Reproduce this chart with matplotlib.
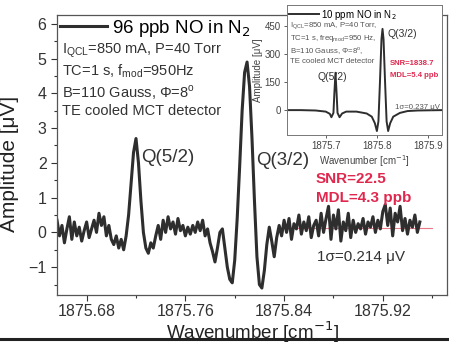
import numpy as np
import matplotlib
matplotlib.use("Agg")
import matplotlib.pyplot as plt

plt.rcParams['font.family'] = ['Liberation Sans', 'DejaVu Sans']

# main trace: 96 ppb NO, sampled every 0.002 cm-1 starting at 1875.656
wn_start = 1875.656
wn_step = 0.002
amp_96ppb = [
    0.35, -0.1, 0.2, -0.3, 0.1, 0.45, -0.2, 0.3, -0.1, 0.15,
    -0.25, 0.05, 0.3, -0.15, 0.1, 0.35, 0.0, 0.55, 0.2, 0.45,
    -0.1, 0.2, -0.2, -0.35, -0.1, -0.45, -0.2, -0.5, -0.1, 0.5,
    1.4, 2.3, 2.7, 2.0, 0.9, 0.0, -0.45, -0.6, -0.3, -0.45,
    -0.1, 0.2, -0.2, 0.35, 0.0, 0.45, 0.1, 0.3, -0.05, 0.4,
    0.05, 0.2, -0.1, 0.15, -0.05, 0.2, 0.0, 0.3, 0.05, 0.35,
    -0.1, 0.1, -0.3, -0.55, -0.85, -0.45, 0.0, 0.1, -0.45, -1.0,
    -1.35, -1.45, -0.8, 0.4, 1.9, 3.5, 4.6, 4.9, 4.2, 2.7,
    0.9, -0.7, -1.5, -1.6, -1.1, -0.35, 0.15, -0.25, -0.7, -0.15,
    0.2, -0.1, 0.35, 0.0, 0.4, -0.2, 0.25, 0.1, 0.5, -0.05,
    0.3, 0.05, 0.45, -0.15, 0.2, 0.35, -0.1, 0.55, 0.0, 0.4,
    0.75, -0.2, 0.5, 0.1, 0.65, -0.25, 0.3, 0.05, 0.55, -0.15,
    0.35, 0.0, 0.25, 0.1, 0.4, -0.05, 0.3, 0.15, 0.45, 0.0,
    0.35, 0.1, 0.6, 0.8, 0.2, 0.7, -0.1, 0.55, 0.3, 0.75,
    0.05, 0.4, -0.05, 0.35, 0.15, 0.5, 0.0, 0.3,
]
wn_main = wn_start + wn_step * np.arange(len(amp_96ppb))

baseline_wn = [1875.8376, 1875.96]
baseline_amp = [0.12, 0.12]

# inset trace: 10 ppm NO
wn_inset = [1875.624, 1875.65, 1875.68, 1875.70, 1875.708, 1875.711, 1875.715,
            1875.717, 1875.719, 1875.721, 1875.723, 1875.727, 1875.732, 1875.74,
            1875.76, 1875.78, 1875.79, 1875.796, 1875.800, 1875.803, 1875.806,
            1875.809, 1875.811, 1875.813, 1875.816, 1875.819, 1875.822, 1875.826,
            1875.832, 1875.845, 1875.86, 1875.88, 1875.927]
amp_10ppm = [0, 0, -2, -8, -20, -38, -15, 100, 200, 100, -15, -38, -18, -8,
             -8, -18, -35, -70, -112, -60, 150, 380, 435, 380, 150, -60, -112,
             -70, -35, -15, -5, -2, 0]

fig = plt.figure(figsize=(4.49, 3.43), dpi=100)
ax = fig.add_axes([0.127, 0.140, 0.8685, 0.816])

ax.plot(baseline_wn, baseline_amp, color='#e87a8a', lw=0.8, zorder=1)
ax.plot(wn_main, amp_96ppb, color='#2e2e2e', lw=2.2, label='96 ppb NO in N$_2$', zorder=2)

ax.set_xlim(1875.656, 1875.972)
ax.set_ylim(-1.8, 6.25)
ax.set_xticks([1875.68, 1875.76, 1875.84, 1875.92])
ax.set_xticklabels(['1875.68', '1875.76', '1875.84', '1875.92'])
ax.set_xticks([1875.72, 1875.80, 1875.88, 1875.96], minor=True)
ax.set_yticks([-1, 0, 1, 2, 3, 4, 5, 6])
ax.set_yticks(np.arange(-1.5, 6.1, 1.0), minor=True)
ax.tick_params(labelsize=11.5, colors='#333333', length=4, width=0.8)
ax.tick_params(axis='x', pad=2.5)
ax.tick_params(which='minor', length=2.5, width=0.8, colors='#333333')
for s in ax.spines.values():
    s.set_color('#555555')
    s.set_linewidth(0.9)

ax.set_xlabel('Wavenumber [cm$^{-1}$]', fontsize=13.5, color='#222222', labelpad=0)
ax.set_ylabel('Amplitude [\u03bcV]', fontsize=15, color='#222222')
ax.yaxis.set_label_coords(-0.098, 0.468)

leg = ax.legend(loc='upper left', frameon=False, fontsize=13.5, handlelength=2.5,
                handletextpad=0.3, borderaxespad=0.05, borderpad=0.1)

ax.text(0.012, 0.905,
        'I$_{\\mathregular{QCL}}$=850 mA, P=40 Torr\n'
        'TC=1 s, f$_{\\mathregular{mod}}$=950Hz\n'
        'B=110 Gauss, \u03a6=8$^{\\mathregular{o}}$\n'
        'TE cooled MCT detector',
        transform=ax.transAxes, fontsize=10.5, color='#333333', va='top',
        linespacing=1.18)

ax.text(1875.7242, 2.15, 'Q(5/2)', fontsize=13.5, color='#333333', va='center')
ax.text(1875.8175, 2.07, 'Q(3/2)', fontsize=13.5, color='#333333', va='center')
ax.text(1875.8655, 1.55, 'SNR=22.5', fontsize=11, color='#e0284f',
        fontweight='bold', va='center')
ax.text(1875.8655, 1.0, 'MDL=4.3 ppb', fontsize=11, color='#e0284f',
        fontweight='bold', va='center')
ax.text(1875.867, -0.72, '1\u03c3=0.214 \u03bcV', fontsize=11, color='#333333',
        va='center')

# inset
axi = fig.add_axes([0.639, 0.606, 0.345, 0.379])
axi.plot(wn_inset, amp_10ppm, color='#2e2e2e', lw=1.4, label='10 ppm NO in N$_2$')
axi.set_xlim(1875.624, 1875.927)
axi.set_ylim(-134, 562)
axi.set_xticks([1875.7, 1875.8, 1875.9])
axi.set_xticklabels(['1875.7', '1875.8', '1875.9'])
axi.set_yticks([0, 150, 300, 450])
axi.tick_params(labelsize=7, colors='#444444', length=2.5, width=0.6, pad=2)
for s in axi.spines.values():
    s.set_color('#777777')
    s.set_linewidth(0.7)
axi.set_xlabel('Wavenumber [cm$^{-1}$]', fontsize=7, color='#444444', labelpad=1)
axi.set_ylabel('Amplitude [\u03bcV]', fontsize=7, color='#444444', labelpad=1)
axi.legend(loc='upper left', frameon=False, fontsize=7, handlelength=3,
           handletextpad=0.3, borderaxespad=0.15, borderpad=0.1)
axi.text(0.02, 0.875,
         'I$_{\\mathregular{QCL}}$=850 mA, P=40 Torr,\n'
         'TC=1 s, freq$_{\\mathregular{mod}}$=950 Hz,\n'
         'B=110 Gauss, \u03a6=8$^{\\mathregular{o}}$,\n'
         'TE cooled MCT detector',
         transform=axi.transAxes, fontsize=5.6, color='#555555', va='top',
         linespacing=1.12)
axi.text(1875.683, 175, 'Q(5/2)', fontsize=7.5, color='#333333', va='center')
axi.text(1875.820, 410, 'Q(3/2)', fontsize=7.5, color='#333333', va='center')
axi.text(1875.825, 250, 'SNR=1838.7', fontsize=5.6, color='#e0284f',
         fontweight='bold', va='center')
axi.text(1875.825, 185, 'MDL=5.4 ppb', fontsize=5.6, color='#e0284f',
         fontweight='bold', va='center')
axi.text(1875.836, 15, '1\u03c3=0.237 \u03bcV', fontsize=5.6, color='#555555',
         va='center')

# dark border line at the bottom of the scan
fig.add_artist(plt.Line2D([0, 1], [0.012, 0.012], transform=fig.transFigure,
                          color='#222222', lw=2.2))

fig.savefig('out.png', dpi=100)
